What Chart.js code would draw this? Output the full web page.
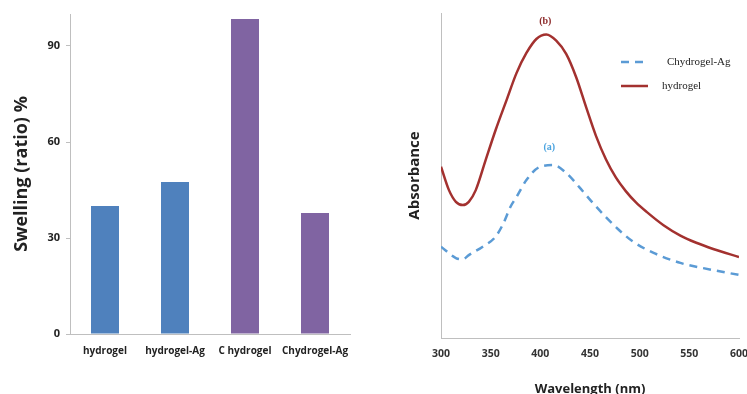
<!DOCTYPE html>
<html><head><meta charset="utf-8">
<script src="https://cdn.jsdelivr.net/npm/chart.js@4.4.1/dist/chart.umd.min.js"></script>
<style>
html,body{margin:0;padding:0;width:747px;height:394px;overflow:hidden;background:#fff;}
#w1{position:absolute;left:0;top:0;width:380px;height:394px;}
#w2{position:absolute;left:380px;top:0;width:380px;height:400px;}
</style></head><body>
<div id="w1"><canvas id="c1"></canvas></div>
<div id="w2"><canvas id="c2"></canvas></div>
<script>
// ---- Left chart data ----
const barCategories = ["hydrogel", "hydrogel-Ag", "C hydrogel", "Chydrogel-Ag"];
const swellingValues = [40, 47.5, 98.4, 37.8];
const barColors = ["#4f81bd", "#4f81bd", "#8064a2", "#8064a2"];
const swellingTicks = [0, 30, 60, 90];

// ---- Right chart data ----
const hydrogelWavelengths = [300, 308, 315, 322, 328, 335, 345, 355, 366, 376, 386, 396, 406, 416, 426, 436, 446, 456, 466, 476, 486, 496, 507, 524, 541, 557, 574, 600];
const hydrogelAbsorbance = [0.527, 0.455, 0.419, 0.409, 0.419, 0.455, 0.548, 0.640, 0.732, 0.815, 0.877, 0.920, 0.934, 0.915, 0.874, 0.803, 0.711, 0.622, 0.550, 0.494, 0.452, 0.418, 0.388, 0.347, 0.315, 0.293, 0.274, 0.249];
const chAgWavelengths = [300, 315, 322, 328, 342, 355, 363, 370, 376, 386, 399, 413, 426, 439, 453, 466, 480, 494, 514, 541, 564, 600];
const chAgAbsorbance = [0.281, 0.246, 0.242, 0.255, 0.281, 0.312, 0.354, 0.404, 0.434, 0.486, 0.526, 0.532, 0.508, 0.465, 0.415, 0.372, 0.330, 0.295, 0.262, 0.231, 0.215, 0.194];
const wavelengthTicks = [300, 350, 400, 450, 500, 550, 600];
const peakLabels = [{text: "(b)", x: 405, y: 0.975, color: "#8c2a2a"}, {text: "(a)", x: 409, y: 0.585, color: "#4aa3df"}];
const legendItems = [{text: "Chydrogel-Ag", color: "#5b9bd5", dash: [8, 6]}, {text: "hydrogel", color: "#a3312f", dash: []}];

const axisGray = "#bfbfbf";

new Chart(document.getElementById("c1"), {
  type: "bar",
  data: {
    labels: barCategories,
    datasets: [{data: swellingValues, backgroundColor: barColors, barPercentage: 0.4, categoryPercentage: 1.0}]
  },
  options: {
    responsive: true, maintainAspectRatio: false, animation: false,
    layout: {padding: {left: 0, right: 30, top: 14, bottom: 26}},
    plugins: {legend: {display: false}, tooltip: {enabled: false}},
    scales: {
      y: {
        min: 0, max: 100,
        afterBuildTicks: s => { s.ticks = swellingTicks.map(v => ({value: v})); },
        afterFit: s => { s.width = 70; },
        grid: {display: true, drawOnChartArea: false, drawTicks: true, tickLength: 4, color: axisGray},
        border: {display: true, color: axisGray, width: 1},
        ticks: {color: "#222", padding: 6, font: {family: "Open Sans", weight: "bold", size: 11}},
        title: {display: true, text: "Swelling (ratio) %", color: "#222", padding: {top: 11, bottom: 0}, font: {family: "Open Sans", weight: "bold", size: 18}}
      },
      x: {
        grid: {display: false, drawTicks: false},
        border: {display: true, color: axisGray, width: 1},
        ticks: {color: "#222", padding: 11, maxRotation: 0, font: {family: "Open Sans", weight: "bold", size: 10}}
      }
    }
  }
});

const annotPlugin = {
  id: "annot",
  afterDatasetsDraw(chart) {
    const ctx = chart.ctx, xs = chart.scales.x, ys = chart.scales.y;
    ctx.save();
    ctx.textAlign = "center"; ctx.textBaseline = "middle";
    ctx.font = "bold 10px 'Liberation Serif'";
    peakLabels.forEach(p => { ctx.fillStyle = p.color; ctx.fillText(p.text, xs.getPixelForValue(p.x), ys.getPixelForValue(p.y)); });
    const lx0 = 241, lx1 = 268;
    const rows = [62, 86];
    legendItems.forEach((it, i) => {
      ctx.strokeStyle = it.color; ctx.lineWidth = 2.5; ctx.setLineDash(it.dash);
      ctx.beginPath(); ctx.moveTo(lx0, rows[i]); ctx.lineTo(lx1, rows[i]); ctx.stroke();
      ctx.setLineDash([]);
      ctx.fillStyle = "#222"; ctx.textAlign = "left";
      ctx.font = "11px 'Liberation Serif'";
      ctx.fillText(it.text, i === 0 ? 287 : 282, rows[i]);
    });
    ctx.restore();
  }
};

new Chart(document.getElementById("c2"), {
  type: "line",
  data: {
    datasets: [
      {label: "Chydrogel-Ag", data: chAgWavelengths.map((w, i) => ({x: w, y: chAgAbsorbance[i]})), borderColor: "#5b9bd5", borderWidth: 2.5, borderDash: [8, 6], pointRadius: 0, cubicInterpolationMode: "monotone", fill: false},
      {label: "hydrogel", data: hydrogelWavelengths.map((w, i) => ({x: w, y: hydrogelAbsorbance[i]})), borderColor: "#a3312f", borderWidth: 2.5, pointRadius: 0, cubicInterpolationMode: "monotone", fill: false}
    ]
  },
  plugins: [annotPlugin],
  options: {
    responsive: true, maintainAspectRatio: false, animation: false,
    layout: {padding: {left: 0, right: 21, top: 13, bottom: 3}},
    plugins: {legend: {display: false}, tooltip: {enabled: false}},
    scales: {
      x: {
        type: "linear", min: 300, max: 600,
        afterBuildTicks: s => { s.ticks = wavelengthTicks.map(v => ({value: v})); },
        afterFit: s => { s.height = 59; },
        grid: {display: false, drawTicks: false},
        border: {display: true, color: axisGray, width: 1},
        ticks: {color: "#333", padding: 10, maxRotation: 0, font: {family: "Open Sans", weight: "bold", size: 10.5}},
        title: {display: true, text: "Wavelength (nm)", color: "#222", padding: {top: 0, bottom: 0}, font: {family: "Open Sans", weight: "bold", size: 13}}
      },
      y: {
        min: 0, max: 1,
        afterFit: s => { s.width = 61; },
        grid: {display: false, drawTicks: false},
        border: {display: true, color: axisGray, width: 1},
        ticks: {display: false},
        title: {display: true, text: "Absorbance", color: "#222", padding: {top: 26, bottom: 0}, font: {family: "Open Sans", weight: "bold", size: 15}}
      }
    }
  }
});
</script>
</body></html>
